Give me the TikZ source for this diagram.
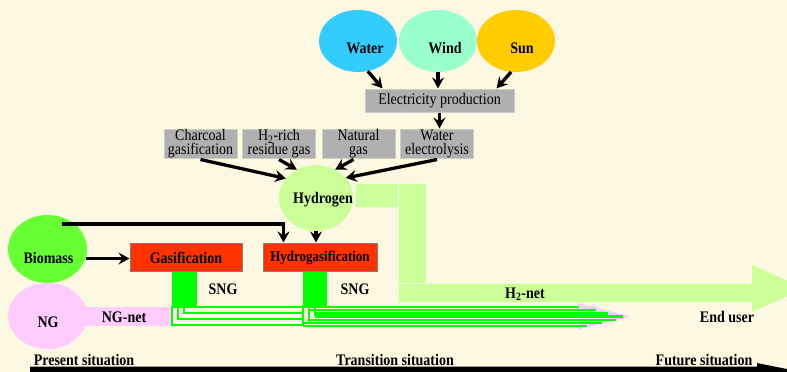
\documentclass[tikz,border=0pt]{standalone}
\usepackage{fontspec}
\setmainfont{Liberation Serif}
\usetikzlibrary{shapes.geometric,arrows.meta,calc}
\definecolor{bgc}{RGB}{253,248,225}
\definecolor{waterc}{RGB}{51,204,255}
\definecolor{windc}{RGB}{153,255,204}
\definecolor{sunc}{RGB}{255,204,0}
\definecolor{h2c}{RGB}{204,255,153}
\definecolor{biomc}{RGB}{102,255,51}
\definecolor{ngc}{RGB}{255,204,255}
\definecolor{redc}{RGB}{255,51,0}
\definecolor{sngc}{RGB}{0,255,0}
\definecolor{boxgray}{RGB}{176,176,176}
\definecolor{boxedge}{RGB}{205,205,205}
\begin{document}
\begin{tikzpicture}[x=1pt,y=-1pt,
  every node/.style={font=\fontsize{14}{12}\selectfont},
  lbl/.style={font=\fontsize{14}{12}\selectfont\bfseries, inner sep=0, yscale=1.15},
  src/.style={ellipse, inner sep=0, draw=none},
  graybox/.style={rectangle, fill=boxgray, draw=boxedge, line width=1, inner sep=0, align=center, minimum width=73, minimum height=26, yscale=1.15},
  redbox/.style={rectangle, fill=redc, draw=gray, line width=1, inner sep=0, minimum height=25.2, yscale=1.15, font=\fontsize{14}{12}\selectfont\bfseries},
  arr/.style={-{Stealth[length=11,width=12,inset=4]}, line width=3.3},
  h2band/.style={fill=h2c, draw=white!55!h2c, line width=0.8},
  sngline/.style={draw=sngc, line width=1.6},
  sngbar/.style={draw=sngc, line width=2.5},
]
\fill[bgc] (0,0) rectangle (787,372);
\useasboundingbox (0,0) rectangle (787,372);

% hydrogen net bands
\path[h2band] (355,183) rectangle (426,207);
\path[h2band] (398,183) rectangle (426,302);
\path[h2band] (398,283) rectangle (755,302);
\fill[h2c] (752,265) -- (805,288.5) -- (752,312) -- cycle;

% NG net band
\fill[ngc] (60,307) rectangle (578,326);
\fill[ngc] (578,303) -- (630,316.5) -- (578,330) -- cycle;
\fill[bgc] (172,306) rectangle (578,327);

% sources
\node[src, fill=waterc, minimum width=78, minimum height=62] (water) at (358,41) {};
\node[src, fill=windc, minimum width=78, minimum height=62] (wind) at (438,41) {};
\node[src, fill=sunc, minimum width=78, minimum height=62] (sun) at (516,41) {};
\node[lbl] (twater) at (365,48.5) {Water};
\node[lbl] (twind) at (445,48.5) {Wind};
\node[lbl] (tsun) at (522,48.5) {Sun};

\node[graybox, minimum width=149, minimum height=20] (elec) at (439.5,100.5) {Electricity production};

\node[graybox] (charcoal) at (200.5,144) {Charcoal\\gasification};
\node[graybox] (h2rich) at (279,144) {H\textsubscript{2}-rich\\residue gas};
\node[graybox] (natural) at (358.5,144) {Natural\\gas};
\node[graybox] (welectro) at (437,144) {Water\\electrolysis};

\node[src, fill=h2c, minimum width=74, minimum height=66] (hydrogen) at (316,198) {};
\node[lbl] (thydrogen) at (323,200) {Hydrogen};

\node[src, fill=biomc, minimum width=79, minimum height=68] (biomass) at (47.5,249) {};
\node[lbl] (tbiomass) at (48.5,258) {Biomass};
\node[src, fill=ngc, minimum width=79, minimum height=66] (ng) at (47.5,316) {};
\node[lbl] (tng) at (48,322) {NG};
\node[lbl] (tngnet) at (124,317) {NG-net};

\node[redbox, minimum width=112] (gasif) at (186,257.5) {Gasification};
\node[redbox, minimum width=114] (hydrog) at (320,257.5) {\fontsize{13}{12}\selectfont Hydrogasification};

% SNG blocks
\fill[sngc] (172,272) rectangle (197,306);
\fill[sngc] (303,272) rectangle (327,306);
\node[lbl] (tsng1) at (223,289.5) {SNG};
\node[lbl] (tsng2) at (355,289.5) {SNG};

% SNG lines
\draw[sngline] (172,306) -- (172,325) -- (303,325);
\draw[sngline] (178,306) -- (178,319) -- (303,319);
\draw[sngline] (184,306) -- (184,313) -- (303,313);
\draw[sngline] (172,307) -- (303,307);
\draw[sngline] (303,305) -- (303,326);
\draw[sngline] (309,305) -- (309,322);
\draw[sngline] (315,305) -- (315,316);
\draw[sngbar] (303,307) -- (579,307);
\draw[sngbar] (309,310.2) -- (596,310.2);
\draw[sngbar] (315,313.4) -- (608,313.4);
\draw[sngbar] (315,316.6) -- (623,316.6);
\draw[sngbar] (309,319.8) -- (616,319.8);
\draw[sngbar] (303,323) -- (602,323);
\draw[sngbar] (303,326) -- (587,326);

\node[lbl] (th2net) at (525,294) {H\textsubscript{2}-net};
\node[lbl] (tenduser) at (727,317) {End user};

% arrows
\draw[arr] (water.-72) -- ($(elec.north west)+(18,0)$);
\draw[arr] (wind.south) -- (wind.south |- elec.north);
\draw[arr] (sun.-99) -- ($(elec.north east)+(-18,0)$);
\draw[arr] (elec.south) -- (elec.south |- welectro.north);
\draw[arr] (charcoal.south) -- (hydrogen.147);
\draw[arr] (h2rich.south) -- (hydrogen.124);
\draw[arr] ($(natural.south)+(-5,0)$) -- (hydrogen.56);
\draw[arr] (welectro.south) -- (hydrogen.34);
\draw[arr] (biomass.-14) -- (biomass.-14 -| gasif.west);
\coordinate (bstart) at ($(biomass.center)+(14,-25)$);
\draw[arr] (bstart) -| ($(hydrog.north west)+(21,0)$);
\draw[arr] (hydrogen.south) -- (hydrogen.south |- hydrog.north);

% timeline
\fill[black] (30,366.5) -- (757,366.5) -- (757,363) -- (787,369) -- (787,372) -- (30,372) -- cycle;
\node[lbl] (present) at (84,360) {Present situation};
\node[lbl] (transition) at (395,360) {Transition situation};
\node[lbl] (future) at (704,360) {Future situation};
\end{tikzpicture}
\end{document}
